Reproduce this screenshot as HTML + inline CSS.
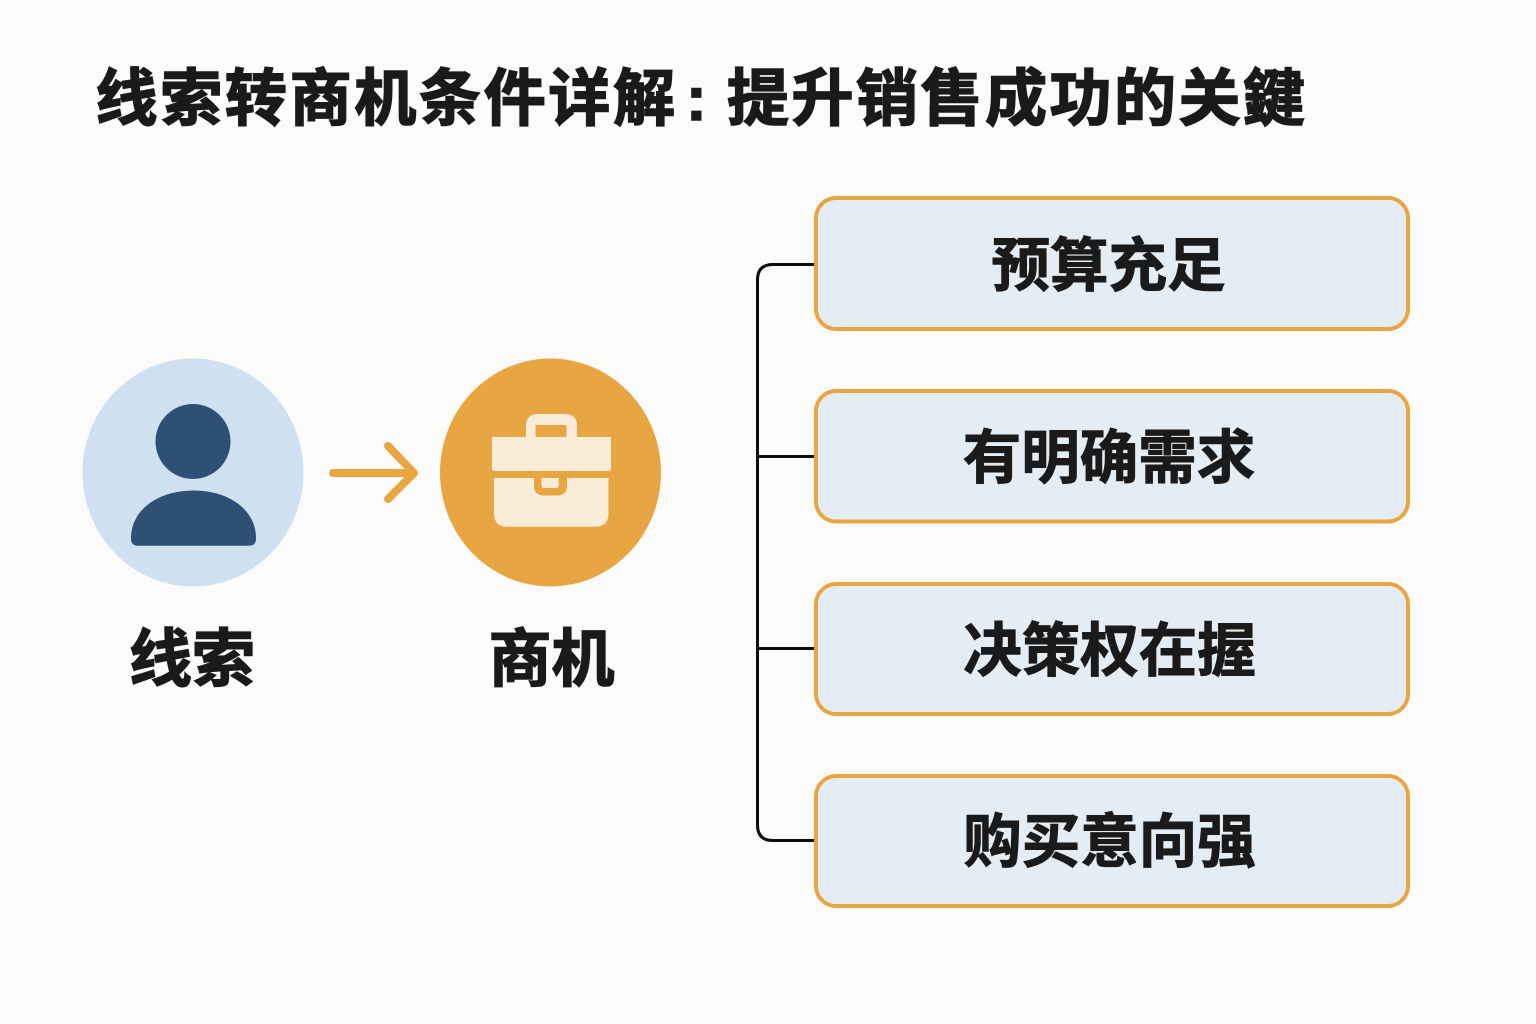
<!DOCTYPE html>
<html lang="zh">
<head>
<meta charset="utf-8">
<style>
html,body{margin:0;padding:0;background:#fbfbf9;}
svg{display:block;}
text{font-family:"Liberation Sans","Noto Sans CJK SC",sans-serif;font-weight:700;fill:#1a1a1a;stroke:#1a1a1a;}
</style>
</head>
<body>
<svg width="1536" height="1024" viewBox="0 0 1536 1024" xmlns="http://www.w3.org/2000/svg">
<rect width="1536" height="1024" fill="#fbfbf9"/>
<text x="95.500" y="120" font-size="62" letter-spacing="2.700" stroke-width="1.600">线索转商机条件详解</text>
<text x="686" y="120" font-size="62" stroke-width="1.600">:</text>
<text x="727" y="120" font-size="62" letter-spacing="2.500" stroke-width="1.600">提升销售成功的关鍵</text>

<ellipse cx="193" cy="472.500" rx="110.500" ry="114" fill="#cfe1f1"/>
<ellipse cx="193" cy="441.500" rx="37.500" ry="37.500" fill="#2f5075"/>
<path d="M131 538C131 510 158 490.500 193.500 490.500C229 490.500 256 510 256 538V539Q256 545.700 249 545.700H138Q131 545.700 131 539Z" fill="#2f5075"/>

<path d="M333 473H412M388 446L414 473L388 499" fill="none" stroke="#e8a642" stroke-width="8" stroke-linecap="round" stroke-linejoin="round"/>

<ellipse cx="550.500" cy="472.500" rx="110.500" ry="114" fill="#e8a642"/>
<path fill-rule="evenodd" d="M526 437V426Q526 414 538 414H565Q577 414 577 426V437H611V468Q611 471 608 471H495Q492 471 492 468V437ZM535.500 425V437H566.500V425Z" fill="#f9ecd8"/>
<path d="M494 478H534V486Q534 495.500 544 495.500H557Q567 495.500 567 486V478H608.500V513Q608.500 526.700 595 526.700H507Q494 526.700 494 513Z" fill="#f9ecd8"/>
<path d="M541.500 478H558.800V485Q558.800 488 556 488H544Q541.500 488 541.500 485Z" fill="#f9ecd8"/>

<text x="192" y="681" font-size="63" text-anchor="middle" stroke-width="1.400">线索</text>
<text x="551.500" y="681" font-size="63" text-anchor="middle" stroke-width="1.400">商机</text>

<path d="M815 264.500H773Q757.500 264.500 757.500 280V825Q757.500 840.500 773 840.500H815M757.500 456.500H815M757.500 648.500H815" fill="none" stroke="#0d0d0d" stroke-width="3"/>

<g fill="#e5edf4" stroke="#e8a642" stroke-width="4">
<rect x="816" y="198" width="592" height="131" rx="20"/>
<rect x="816" y="391" width="592" height="130.500" rx="20"/>
<rect x="816" y="584" width="592" height="130" rx="20"/>
<rect x="816" y="776" width="592" height="130" rx="20"/>
</g>

<text x="1108.500" y="286" text-anchor="middle" font-size="58.500" stroke-width="1">预算充足</text>
<text x="1109" y="478" text-anchor="middle" font-size="58.500" stroke-width="1">有明确需求</text>
<text x="1109.500" y="671" text-anchor="middle" font-size="58.500" stroke-width="1">决策权在握</text>
<text x="1109.500" y="862" text-anchor="middle" font-size="58.500" stroke-width="1">购买意向强</text>
</svg>
</body>
</html>
